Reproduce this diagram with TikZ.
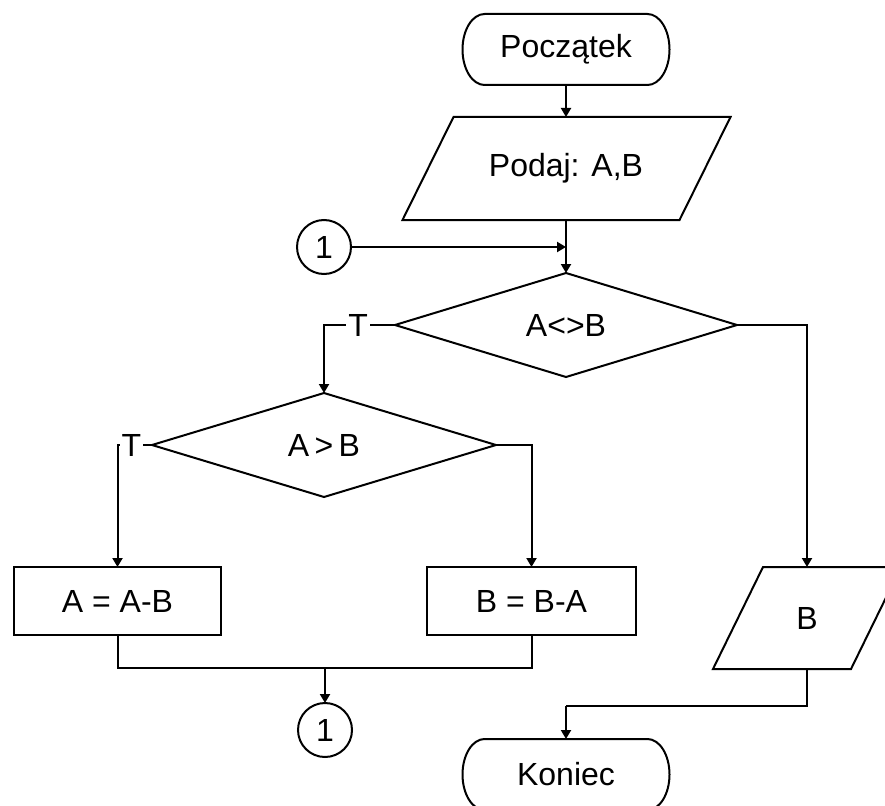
\documentclass[tikz,border=0pt]{standalone}
\usepackage{fontspec}
\setmainfont{Liberation Sans}
\usetikzlibrary{shapes.geometric,arrows.meta,calc}
\begin{document}
\begin{tikzpicture}[x=1pt,y=-1pt,
  every node/.style={font=\fontsize{32}{38}\selectfont, inner sep=0pt, outer sep=0pt},
  ln/.style={line width=2pt, draw=black},
  arr/.style={ln, -{Triangle[width=10pt,length=9pt]}},
  ghost/.style={draw=none, minimum width=#1},
  procbox/.style={draw, line width=2pt, minimum height=68pt},
  decide/.style={diamond, draw, line width=2pt, minimum width=344pt, minimum height=104pt},
  conn/.style={circle, draw, line width=2pt, minimum size=54pt},
  tl/.style={fill=white, inner sep=2pt}
]
\useasboundingbox (0,0) rectangle (885,805);
\fill[white] (0,0) rectangle (885,805);
\clip (0,0) rectangle (885,805);

% Start terminal
\node[ghost=207pt, minimum height=71pt] (pk) at (566,49.5) {Początek};
\draw[ln] ($(pk.north west)+(22,0)$) -- ($(pk.north east)+(-22,0)$)
  arc[start angle=-90,end angle=90,x radius=22,y radius=35.5]
  -- ($(pk.south west)+(22,0)$)
  arc[start angle=90,end angle=270,x radius=22,y radius=35.5] -- cycle;

% Input parallelogram
\node[ghost=277pt, minimum height=103pt] (pd) at (566,168.5) {Podaj: A,B};
\draw[ln] ($(pd.south west)+(-25,0)$) -- ($(pd.north west)+(26,0)$)
  -- ($(pd.north east)+(26,0)$) -- ($(pd.south east)+(-25,0)$) -- cycle;

% Connector 1 (top)
\node[conn] (c1) at (324,247) {1};

% Decision A<>B
\node[decide, minimum width=342pt] (d1) at (566,325) {A<>B};

% Decision A>B
\node[decide] (d2) at (324,445) {A\,>\,B};

% Process boxes
\node[procbox, minimum width=207pt] (b1) at (117.5,601) {A = A-B};
\node[procbox, minimum width=209pt] (b2) at (531.5,601) {B = B-A};

% Output parallelogram
\node[ghost=138pt, minimum height=102pt] (bo) at (807,618) {B};
\draw[ln] ($(bo.south west)+(-25,0)$) -- ($(bo.north west)+(25,0)$)
  -- ($(bo.north east)+(25,0)$) -- ($(bo.south east)+(-25,0)$) -- cycle;

% Connector 1 (bottom)
\node[conn] (c2) at (325,730) {1};

% End terminal
\node[ghost=207pt, minimum height=71pt] (ko) at (566,774.5) {Koniec};
\draw[ln] ($(ko.north west)+(22,0)$) -- ($(ko.north east)+(-22,0)$)
  arc[start angle=-90,end angle=90,x radius=22,y radius=35.5]
  -- ($(ko.south west)+(22,0)$)
  arc[start angle=90,end angle=270,x radius=22,y radius=35.5] -- cycle;

% Connectors
\coordinate (j) at (325,668);
\coordinate (k) at (566,706);

\draw[arr] (pk.south) -- (pd.north);
\draw[arr] (pd.south) -- (d1.north);
\draw[arr] (c1.east) -- (c1.east -| pd.south);
\draw[arr] (d1.west) -| node[tl, pos=0.26] {T} (d2.north);
\draw[arr] (d2.west) -| node[tl, pos=0.3] {T} (b1.north);
\draw[arr] (d2.east) -| (b2.north);
\draw[ln] (b1.south) |- (j) -| (b2.south);
\draw[arr] (j) -- (c2.north);
\draw[arr] (d1.east) -| (bo.north);
\draw[ln] (bo.south) |- (k);
\draw[arr] (k) -- (ko.north);
\end{tikzpicture}
\end{document}
